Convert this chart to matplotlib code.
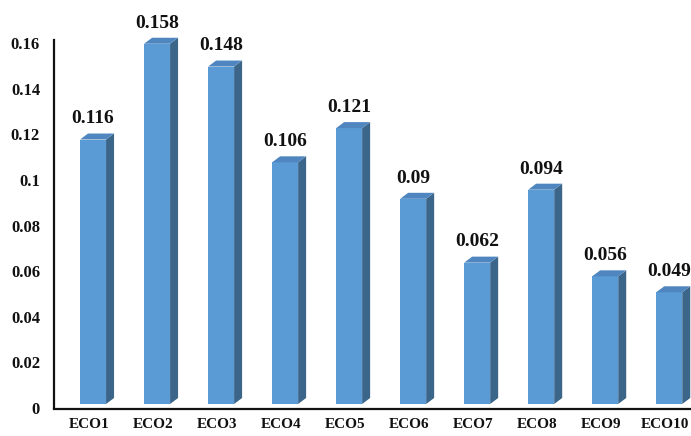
import matplotlib
matplotlib.use("Agg")
import matplotlib.pyplot as plt
import matplotlib.transforms as mtransforms
from matplotlib.patches import Polygon

categories = ["ECO1", "ECO2", "ECO3", "ECO4", "ECO5", "ECO6", "ECO7", "ECO8", "ECO9", "ECO10"]
values = [0.116, 0.158, 0.148, 0.106, 0.121, 0.09, 0.062, 0.094, 0.056, 0.049]
value_labels = ["0.116", "0.158", "0.148", "0.106", "0.121", "0.09", "0.062", "0.094", "0.056", "0.049"]
yticks = [0, 0.02, 0.04, 0.06, 0.08, 0.1, 0.12, 0.14, 0.16]
ytick_labels = ["0", "0.02", "0.04", "0.06", "0.08", "0.1", "0.12", "0.14", "0.16"]

FRONT = "#5b9bd5"
TOP = "#4f86bf"
SIDE = "#3b6589"
SERIF = ["Liberation Serif", "DejaVu Serif"]

W, H, DPI = 691, 436, 100
fig = plt.figure(figsize=(W / DPI, H / DPI), dpi=DPI)
ax_left, ax_right, ax_bottom, ax_top = 54, 691, 408, 40
ax = fig.add_axes([ax_left / W, 1 - ax_bottom / H, (ax_right - ax_left) / W, (ax_bottom - ax_top) / H])

for s in ["top", "right"]:
    ax.spines[s].set_visible(False)
for s in ["left", "bottom"]:
    ax.spines[s].set_linewidth(1.6)
    ax.spines[s].set_color("#111111")
ax.spines["bottom"].set_position(("outward", 1))

xmin, xmax = -0.61, 9.34
ymin, ymax = 0.0, 0.1614
ax.set_xlim(xmin, xmax)
ax.set_ylim(ymin, ymax)

px_per_x = (ax_right - ax_left) / (xmax - xmin)
px_per_y = (ax_bottom - ax_top) / (ymax - ymin)
depth_x = 8 / px_per_x
depth_y = 6 / px_per_y
bar_w = 26 / px_per_x

shift = ax.transData + mtransforms.Affine2D().translate(0, 4)

xs = list(range(len(categories)))
ax.bar(xs, values, width=bar_w, color=FRONT, edgecolor="none", transform=shift, clip_on=False, zorder=3)
for x, v in zip(xs, values):
    xl, xr = x - bar_w / 2, x + bar_w / 2
    side = Polygon([(xr, 0), (xr, v), (xr + depth_x, v + depth_y), (xr + depth_x, depth_y)],
                   closed=True, facecolor=SIDE, edgecolor="none", transform=shift, clip_on=False, zorder=3)
    top = Polygon([(xl, v), (xr, v), (xr + depth_x, v + depth_y), (xl + depth_x, v + depth_y)],
                  closed=True, facecolor=TOP, edgecolor="none", transform=shift, clip_on=False, zorder=3)
    ax.add_patch(side)
    ax.add_patch(top)

for x, v, lab in zip(xs, values, value_labels):
    ax.annotate(lab, (x, v), xytext=(0, 14.5), textcoords="offset points", ha="center", va="baseline",
                fontsize=14, fontweight="bold", family=SERIF, color="#111111", annotation_clip=False)

ax.set_yticks(yticks)
ax.set_yticklabels(ytick_labels, fontsize=12, fontweight="bold", family=SERIF, color="#111111")
ax.set_xticks(xs)
ax.set_xticklabels(categories, fontsize=11, fontweight="bold", family=SERIF, color="#111111")
ax.tick_params(axis="y", length=0, pad=10)
ax.tick_params(axis="x", length=0, pad=6)

label_shift = mtransforms.ScaledTranslation(-4 / DPI, 0, fig.dpi_scale_trans)
for t in ax.get_xticklabels():
    t.set_transform(t.get_transform() + label_shift)

fig.savefig("out.png", dpi=DPI)
